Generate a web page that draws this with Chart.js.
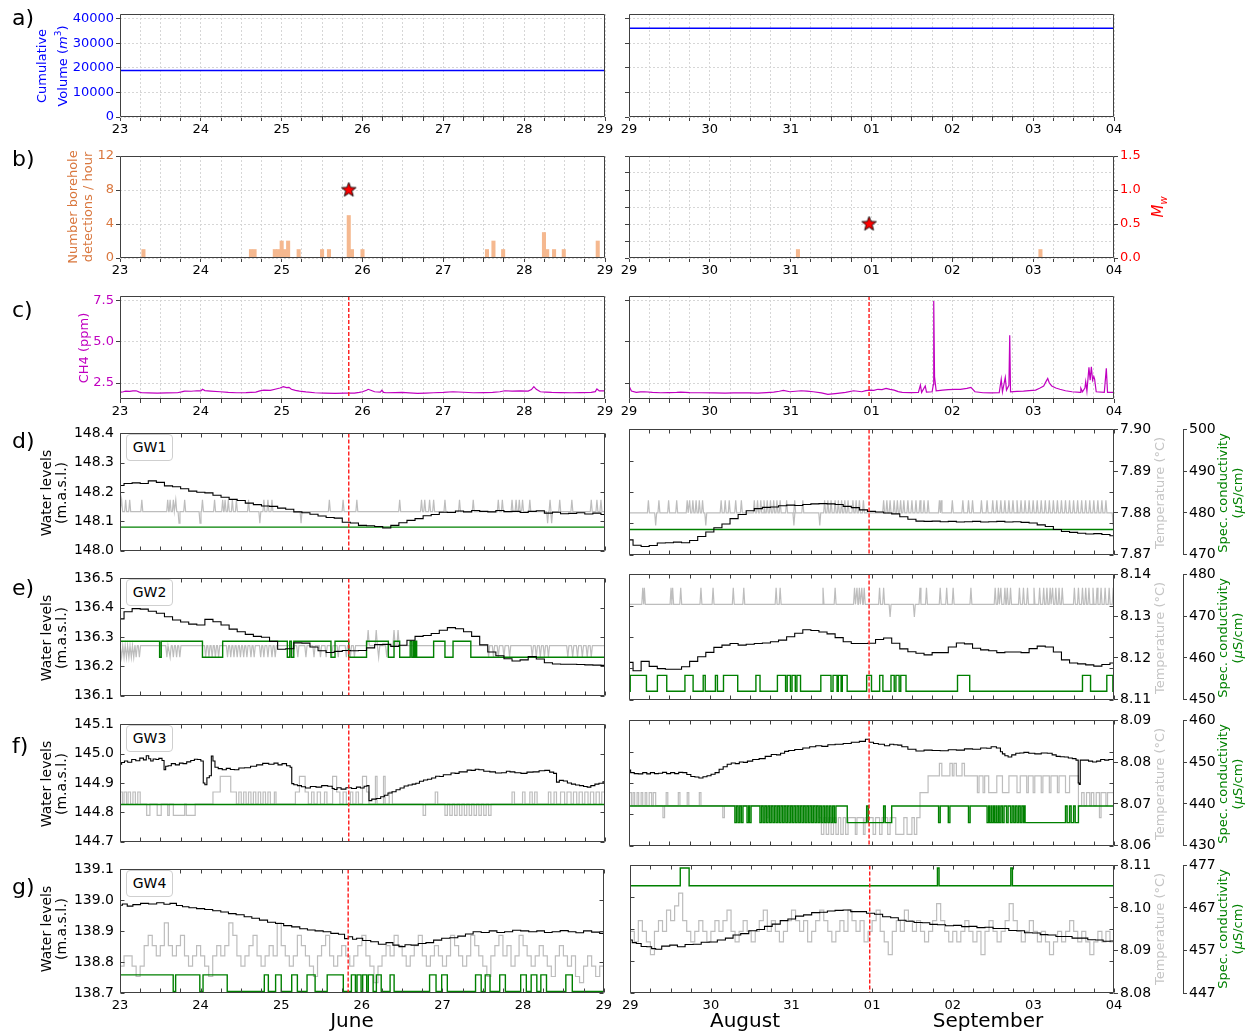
<!DOCTYPE html>
<html>
<head>
<meta charset="utf-8">
<script src="https://cdn.jsdelivr.net/npm/chart.js@4.4.1/dist/chart.umd.min.js"></script>
<style>
  body { margin: 0; background: #fff; }
  #fig { position: relative; width: 1253px; height: 1033px; overflow: hidden; font-family: 'DejaVu Sans', 'Noto Sans', sans-serif; color: #000; }
  #fig canvas { position: absolute; }
  .letter { position: absolute; font-size: 22px; line-height: 26px; }
  .vt { position: absolute; transform: translate(-50%, -50%) rotate(-90deg); text-align: center; white-space: nowrap; }
  .gw { position: absolute; border: 1px solid #cfcfcf; border-radius: 4px; background: #fff; font-size: 14px; text-align: center; box-sizing: border-box; }
  .month { position: absolute; font-size: 20px; line-height: 24px; transform: translateX(-50%); white-space: nowrap; }
</style>
</head>
<body>
<div id="fig"></div>
<script>
// Times are in days from the start of each window:
// June window starts 23 June 00:00, Aug/Sep window starts 29 August 00:00.
const juneDayLabels = ['23', '24', '25', '26', '27', '28', '29'];
const augSepDayLabels = ['29', '30', '31', '01', '02', '03', '04'];

// Seismic events (time, magnitude Mw)
const eventTimeJune = 2.83;
const eventTimeAugSep = 2.97;
const eventMwJune = 1.0;
const eventMwAugSep = 0.5;

// a) cumulative injected volume (m3)
const volumeTicks = [0, 10000, 20000, 30000, 40000];
const volumeJune = [[0, 18950], [6, 18950]];
const volumeAugSep = [[0, 36200], [6, 36200]];

// b) borehole detections per hour
const detectionTicks = [0, 2, 4, 6, 8, 10, 12];
const mwTicks = [0, 0.5, 1.0, 1.5];
const detectionsJune = [[0.29, 1], [1.62, 1], [1.665, 1], [1.915, 1], [1.955, 1], [2.0, 2], [2.04, 1], [2.08, 2], [2.21, 1], [2.5, 1], [2.585, 1], [2.83, 5], [2.87, 1], [3.0, 1], [4.54, 1], [4.62, 2], [4.74, 1], [5.245, 3], [5.285, 1], [5.37, 1], [5.49, 1], [5.91, 2]];
const detectionsAugSep = [[2.09, 1], [5.09, 1]];

// c) CH4 concentration (ppm)
const ch4Ticks = [2.5, 5.0, 7.5];
const ch4June = [[0, 1.93], [0.04, 1.97], [0.07, 2.01], [0.12, 1.99], [0.16, 2.02], [0.2, 2.03], [0.24, 1.95], [0.27, 1.91], [0.35, 1.9], [0.46, 1.89], [0.58, 1.9], [0.71, 1.91], [0.76, 1.96], [0.8, 2.01], [0.88, 2.0], [0.95, 2.03], [1.0, 2.02], [1.02, 2.12], [1.05, 2.04], [1.12, 2.01], [1.24, 1.97], [1.34, 1.93], [1.44, 1.91], [1.56, 1.92], [1.68, 1.95], [1.73, 2.02], [1.78, 2.07], [1.86, 2.06], [1.93, 2.14], [1.98, 2.2], [2.02, 2.28], [2.06, 2.22], [2.09, 2.24], [2.12, 2.12], [2.17, 2.05], [2.22, 2.01], [2.3, 1.96], [2.41, 1.91], [2.53, 1.89], [2.66, 1.87], [2.78, 1.89], [2.9, 1.89], [2.96, 1.93], [3.0, 1.97], [3.05, 2.06], [3.07, 2.12], [3.11, 2.05], [3.15, 1.97], [3.22, 1.95], [3.24, 2.06], [3.26, 1.93], [3.29, 1.91], [3.4, 1.92], [3.49, 1.93], [3.58, 1.9], [3.68, 1.87], [3.78, 1.89], [3.88, 1.91], [4.0, 1.93], [4.12, 1.97], [4.25, 1.94], [4.37, 1.91], [4.5, 1.92], [4.61, 1.93], [4.7, 1.97], [4.76, 2.03], [4.85, 2.01], [4.95, 2.02], [5.05, 2.01], [5.09, 2.1], [5.12, 2.28], [5.15, 2.12], [5.2, 1.97], [5.27, 1.95], [5.34, 1.93], [5.45, 1.92], [5.59, 1.91], [5.7, 1.92], [5.83, 1.93], [5.88, 1.98], [5.9, 2.14], [5.93, 2.02], [5.98, 2.03], [6.0, 2.02]];
const ch4AugSep = [[0, 2.32], [0.03, 2.01], [0.09, 1.93], [0.14, 1.96], [0.19, 1.97], [0.29, 1.93], [0.39, 1.91], [0.49, 1.92], [0.59, 1.93], [0.64, 1.95], [0.75, 1.92], [0.89, 1.91], [1.05, 1.9], [1.19, 1.89], [1.29, 1.9], [1.39, 1.91], [1.49, 1.9], [1.59, 1.89], [1.7, 1.92], [1.79, 1.95], [1.86, 2.0], [1.91, 2.05], [1.99, 1.97], [2.06, 2.0], [2.13, 2.03], [2.2, 2.01], [2.28, 1.97], [2.38, 1.9], [2.46, 1.81], [2.52, 1.84], [2.58, 1.87], [2.68, 1.93], [2.78, 2.03], [2.83, 2.0], [2.88, 1.97], [2.93, 2.04], [2.98, 2.07], [3.03, 2.05], [3.08, 2.12], [3.13, 2.1], [3.18, 2.18], [3.23, 2.12], [3.28, 2.07], [3.33, 1.98], [3.38, 1.93], [3.48, 1.92], [3.58, 1.93], [3.605, 2.38], [3.62, 1.93], [3.665, 2.32], [3.68, 1.95], [3.75, 1.97], [3.765, 2.4], [3.77, 7.48], [3.78, 2.88], [3.8, 2.03], [3.88, 2.07], [3.95, 2.1], [4.03, 2.12], [4.1, 2.11], [4.18, 2.18], [4.23, 2.24], [4.28, 1.97], [4.38, 1.91], [4.48, 1.9], [4.58, 1.91], [4.605, 2.74], [4.62, 1.97], [4.655, 2.84], [4.67, 2.07], [4.7, 2.36], [4.71, 5.41], [4.72, 1.97], [4.8, 1.99], [4.88, 2.01], [4.95, 2.04], [5.03, 2.07], [5.08, 2.18], [5.13, 2.32], [5.16, 2.6], [5.18, 2.78], [5.2, 2.5], [5.23, 2.32], [5.28, 2.2], [5.33, 2.12], [5.4, 2.03], [5.48, 1.97], [5.58, 1.93], [5.59, 2.18], [5.61, 1.97], [5.64, 2.2], [5.65, 2.58], [5.665, 2.01], [5.69, 3.45], [5.705, 2.68], [5.72, 3.49], [5.735, 2.68], [5.75, 2.9], [5.76, 2.74], [5.78, 1.97], [5.88, 1.93], [5.905, 3.39], [5.92, 1.93], [6.0, 1.93]];

// d) GW1: water level (m a.s.l., every 0.1 d), temperature (deg C), spec. conductivity (uS/cm)
const gw1LevelTicks = [148.0, 148.1, 148.2, 148.3, 148.4];
const gw1TempTicks = [7.87, 7.88, 7.89, 7.90];
const gw1CondTicks = [470, 480, 490, 500];
const gw1LevelJune = [148.222, 148.229, 148.231, 148.229, 148.238, 148.233, 148.221, 148.218, 148.211, 148.203, 148.199, 148.197, 148.189, 148.182, 148.175, 148.171, 148.162, 148.157, 148.152, 148.151, 148.145, 148.141, 148.132, 148.129, 148.124, 148.118, 148.113, 148.111, 148.097, 148.094, 148.086, 148.085, 148.082, 148.077, 148.086, 148.095, 148.103, 148.109, 148.119, 148.123, 148.131, 148.130, 148.135, 148.132, 148.137, 148.134, 148.132, 148.137, 148.133, 148.134, 148.130, 148.134, 148.136, 148.128, 148.131, 148.126, 148.127, 148.129, 148.125, 148.128, 148.123];
const gw1LevelAugSep = [148.047, 148.030, 148.026, 148.029, 148.037, 148.038, 148.040, 148.038, 148.045, 148.058, 148.072, 148.086, 148.098, 148.115, 148.128, 148.140, 148.147, 148.151, 148.152, 148.156, 148.158, 148.157, 148.160, 148.162, 148.163, 148.162, 148.160, 148.154, 148.150, 148.143, 148.138, 148.136, 148.133, 148.130, 148.121, 148.113, 148.107, 148.106, 148.107, 148.105, 148.106, 148.104, 148.105, 148.106, 148.104, 148.105, 148.106, 148.104, 148.105, 148.103, 148.101, 148.095, 148.090, 148.080, 148.074, 148.071, 148.068, 148.066, 148.067, 148.064, 148.060];
const gw1TempLevels = [7.877, 7.880, 7.883]; // low, base, high reading
const gw1TempJuneUp = [0.02, 0.07, 0.12, 0.27, 0.59, 0.62, 0.66, 0.69, 0.8, 1.02, 1.17, 1.27, 1.3, 1.34, 1.39, 1.44, 1.59, 1.78, 1.83, 1.88, 2.59, 2.76, 2.93, 3.46, 3.73, 3.77, 3.83, 3.88, 4.02, 4.2, 4.37, 4.68, 4.73, 4.85, 4.9, 4.94, 4.98, 5.07, 5.32, 5.44, 5.59, 5.83, 5.9, 5.95];
const gw1TempJuneDown = [0.73, 0.99, 1.73, 2.24, 5.29, 5.34];
const gw1TempAugSepUp = [0.24, 0.37, 0.49, 0.59, 0.72, 0.75, 0.79, 0.83, 0.87, 0.91, 1.14, 1.19, 1.24, 1.32, 1.39, 1.55, 1.59, 1.63, 1.67, 1.71, 1.75, 1.79, 1.83, 1.87, 1.95, 2.05, 2.15, 2.42, 2.46, 2.5, 2.55, 2.59, 2.63, 2.67, 2.71, 2.77, 2.81, 2.85, 2.9, 3.15, 3.19, 3.23, 3.28, 3.32, 3.36, 3.4, 3.45, 3.5, 3.55, 3.6, 3.65, 3.7, 3.84, 3.86, 4.0, 4.13, 4.2, 4.25, 4.36, 4.43, 4.5, 4.55, 4.6, 4.65, 4.7, 4.75, 4.8, 4.85, 4.9, 4.95, 5.0, 5.05, 5.1, 5.15, 5.2, 5.25, 5.3, 5.35, 5.4, 5.45, 5.5, 5.55, 5.6, 5.65, 5.7, 5.75, 5.8, 5.85, 5.9];
const gw1TempAugSepDown = [0.33, 0.95, 2.04, 2.36, 5.99];
const gw1CondJune = [[0, 476], [6, 476]];
const gw1CondAugSep = [[0, 476], [6, 476]];

// e) GW2
const gw2LevelTicks = [136.1, 136.2, 136.3, 136.4, 136.5];
const gw2TempTicks = [8.11, 8.12, 8.13, 8.14];
const gw2CondTicks = [450, 460, 470, 480];
const gw2LevelJune = [136.362, 136.386, 136.397, 136.395, 136.388, 136.381, 136.369, 136.358, 136.351, 136.344, 136.341, 136.360, 136.352, 136.341, 136.327, 136.318, 136.309, 136.302, 136.299, 136.285, 136.258, 136.260, 136.280, 136.279, 136.266, 136.253, 136.247, 136.251, 136.254, 136.253, 136.254, 136.263, 136.274, 136.275, 136.268, 136.272, 136.289, 136.302, 136.305, 136.312, 136.323, 136.332, 136.328, 136.318, 136.302, 136.273, 136.249, 136.236, 136.226, 136.218, 136.222, 136.233, 136.225, 136.212, 136.208, 136.207, 136.207, 136.206, 136.205, 136.204, 136.203];
const gw2LevelAugSep = [136.219, 136.192, 136.222, 136.206, 136.199, 136.197, 136.197, 136.205, 136.222, 136.237, 136.251, 136.267, 136.274, 136.279, 136.274, 136.277, 136.279, 136.281, 136.285, 136.290, 136.301, 136.312, 136.323, 136.321, 136.316, 136.310, 136.298, 136.285, 136.279, 136.279, 136.280, 136.292, 136.297, 136.280, 136.262, 136.253, 136.248, 136.243, 136.250, 136.250, 136.268, 136.281, 136.278, 136.264, 136.259, 136.256, 136.250, 136.252, 136.252, 136.250, 136.263, 136.271, 136.268, 136.252, 136.227, 136.217, 136.214, 136.211, 136.207, 136.212, 136.217];
const gw2TempJuneLevels = [8.1198, 8.1228, 8.1268];
const gw2TempJuneUp = [3.07, 3.17, 3.39, 3.44];
const gw2TempJuneDown = [0.02, 0.05, 0.08, 0.11, 0.14, 0.17, 0.2, 0.24, 0.58, 0.62, 0.66, 0.7, 0.74, 1.06, 1.1, 1.14, 1.18, 1.22, 1.33, 1.37, 1.41, 1.45, 1.49, 1.53, 1.57, 1.62, 1.66, 1.74, 1.78, 1.83, 1.88, 1.92, 2.14, 2.2, 2.3, 2.4, 2.48, 2.55, 2.62, 2.7, 2.8, 2.85, 2.9, 3.2, 3.3, 4.56, 4.62, 4.68, 4.75, 4.82, 5.1, 5.15, 5.2, 5.25, 5.3, 5.54, 5.6, 5.66, 5.72, 5.78, 5.83];
const gw2TempAugSepLevels = [8.1298, 8.1328, 8.1368];
const gw2TempAugSepUp = [0.17, 0.19, 0.52, 0.54, 0.64, 0.89, 1.04, 1.29, 1.42, 1.82, 1.87, 2.4, 2.55, 2.79, 2.82, 2.85, 2.88, 2.91, 3.1, 3.15, 3.6, 3.68, 3.85, 3.93, 4.01, 4.23, 4.53, 4.57, 4.6, 4.65, 4.68, 4.72, 4.83, 4.88, 4.93, 5.01, 5.08, 5.13, 5.17, 5.21, 5.24, 5.28, 5.32, 5.36, 5.51, 5.56, 5.61, 5.65, 5.69, 5.74, 5.79, 5.84, 5.89, 5.94, 5.99];
const gw2TempAugSepDown = [3.23, 3.53];
const gw2CondJuneLevels = [459.8, 463.9]; // low, high
const gw2CondJuneHigh = [[0, 0.49], [0.51, 1.02], [1.27, 2.07], [2.1, 2.12], [2.15, 2.61], [2.66, 2.83], [3.05, 3.32], [3.39, 3.46], [3.59, 3.61], [3.63, 3.645], [3.655, 3.67], [3.88, 4.02], [4.12, 4.34]];
const gw2CondAugSepLevels = [452.0, 455.8];
const gw2CondAugSepHigh = [[0.015, 0.216], [0.351, 0.467], [0.692, 0.793], [0.918, 0.943], [1.069, 1.094], [1.169, 1.345], [1.57, 1.621], [1.836, 1.937], [1.957, 1.997], [2.017, 2.057], [2.077, 2.122], [2.373, 2.499], [2.524, 2.574], [2.589, 2.624], [2.639, 2.699], [2.94, 3.0], [3.101, 3.141], [3.241, 3.281], [3.302, 3.342], [3.362, 3.427], [4.064, 4.215], [5.61, 5.71], [5.911, 5.986]];

// f) GW3
const gw3LevelTicks = [144.7, 144.8, 144.9, 145.0, 145.1];
const gw3TempTicks = [8.06, 8.07, 8.08, 8.09];
const gw3CondTicks = [430, 440, 450, 460];
const gw3LevelJune = [[0, 144.964], [0.04, 144.97], [0.07, 144.975], [0.12, 144.971], [0.17, 144.98], [0.22, 144.976], [0.27, 144.985], [0.31, 144.979], [0.34, 144.993], [0.37, 144.983], [0.39, 144.975], [0.43, 144.982], [0.46, 144.98], [0.5, 144.984], [0.54, 144.977], [0.55, 144.945], [0.58, 144.957], [0.61, 144.959], [0.66, 144.966], [0.71, 144.962], [0.76, 144.968], [0.8, 144.966], [0.85, 144.972], [0.9, 144.977], [0.94, 144.981], [0.98, 144.98], [1.02, 144.975], [1.04, 144.9], [1.06, 144.894], [1.09, 144.918], [1.12, 144.925], [1.14, 144.992], [1.16, 144.975], [1.19, 144.954], [1.24, 144.949], [1.29, 144.945], [1.34, 144.95], [1.39, 144.946], [1.44, 144.945], [1.5, 144.951], [1.58, 144.952], [1.65, 144.957], [1.73, 144.962], [1.8, 144.967], [1.88, 144.964], [1.93, 144.968], [1.98, 144.962], [2.03, 144.966], [2.09, 144.959], [2.12, 144.954], [2.13, 144.898], [2.17, 144.894], [2.22, 144.891], [2.27, 144.887], [2.32, 144.883], [2.39, 144.888], [2.46, 144.886], [2.53, 144.891], [2.61, 144.889], [2.64, 144.881], [2.66, 144.878], [2.71, 144.884], [2.76, 144.879], [2.83, 144.884], [2.9, 144.881], [2.95, 144.886], [3.0, 144.883], [3.04, 144.889], [3.07, 144.891], [3.09, 144.84], [3.14, 144.845], [3.2, 144.847], [3.25, 144.853], [3.29, 144.858], [3.34, 144.866], [3.39, 144.87], [3.44, 144.877], [3.49, 144.883], [3.54, 144.89], [3.59, 144.893], [3.64, 144.896], [3.68, 144.899], [3.73, 144.906], [3.78, 144.91], [3.83, 144.913], [3.88, 144.917], [3.93, 144.923], [3.98, 144.922], [4.02, 144.928], [4.07, 144.928], [4.12, 144.934], [4.17, 144.933], [4.22, 144.938], [4.27, 144.938], [4.32, 144.944], [4.37, 144.943], [4.42, 144.947], [4.46, 144.945], [4.54, 144.94], [4.61, 144.938], [4.68, 144.934], [4.76, 144.935], [4.8, 144.94], [4.85, 144.938], [4.92, 144.935], [5.0, 144.933], [5.07, 144.937], [5.15, 144.938], [5.22, 144.942], [5.29, 144.943], [5.34, 144.937], [5.39, 144.933], [5.41, 144.903], [5.46, 144.909], [5.51, 144.907], [5.56, 144.9], [5.61, 144.896], [5.66, 144.893], [5.71, 144.891], [5.76, 144.888], [5.8, 144.886], [5.85, 144.891], [5.9, 144.896], [5.95, 144.899], [6.0, 144.904]];
const gw3LevelAugSep = [[0, 144.941], [0.04, 144.933], [0.09, 144.93], [0.14, 144.929], [0.2, 144.933], [0.24, 144.929], [0.29, 144.933], [0.34, 144.93], [0.39, 144.931], [0.44, 144.934], [0.49, 144.93], [0.54, 144.933], [0.59, 144.93], [0.64, 144.934], [0.69, 144.933], [0.74, 144.927], [0.79, 144.921], [0.84, 144.919], [0.89, 144.916], [0.94, 144.92], [0.99, 144.923], [1.04, 144.928], [1.09, 144.933], [1.14, 144.944], [1.19, 144.952], [1.24, 144.96], [1.29, 144.964], [1.34, 144.962], [1.39, 144.967], [1.44, 144.966], [1.49, 144.97], [1.57, 144.975], [1.65, 144.978], [1.72, 144.985], [1.8, 144.991], [1.85, 144.99], [1.9, 144.995], [1.95, 145.001], [2.0, 145.004], [2.1, 145.007], [2.2, 145.012], [2.27, 145.016], [2.35, 145.019], [2.42, 145.017], [2.5, 145.022], [2.6, 145.024], [2.7, 145.026], [2.8, 145.03], [2.9, 145.033], [2.95, 145.04], [3.0, 145.03], [3.05, 145.026], [3.12, 145.024], [3.2, 145.019], [3.25, 145.024], [3.3, 145.022], [3.35, 145.021], [3.4, 145.016], [3.5, 145.008], [3.6, 145.002], [3.7, 145.005], [3.8, 145.004], [3.9, 145.003], [4.0, 145.006], [4.1, 145.005], [4.2, 145.009], [4.3, 145.008], [4.4, 145.012], [4.45, 145.011], [4.51, 145.016], [4.58, 145.012], [4.61, 145.0], [4.63, 144.993], [4.67, 144.987], [4.71, 144.983], [4.76, 144.99], [4.81, 144.995], [4.86, 144.996], [4.91, 144.998], [4.98, 144.995], [5.06, 144.993], [5.14, 144.996], [5.21, 144.995], [5.26, 144.99], [5.31, 144.985], [5.36, 144.984], [5.41, 144.983], [5.46, 144.98], [5.51, 144.978], [5.55, 144.973], [5.565, 144.9], [5.575, 144.895], [5.59, 144.973], [5.66, 144.973], [5.71, 144.97], [5.76, 144.967], [5.81, 144.97], [5.86, 144.975], [5.91, 144.973], [5.96, 144.975], [6.0, 144.975]];
const gw3TempJune = [[0, 8.0727], [0.03, 8.0696], [0.05, 8.0727], [0.08, 8.0696], [0.1, 8.0727], [0.13, 8.0696], [0.16, 8.0727], [0.19, 8.0696], [0.22, 8.0727], [0.25, 8.0696], [0.33, 8.0667], [0.37, 8.0696], [0.46, 8.0667], [0.51, 8.0696], [0.59, 8.0667], [0.61, 8.0696], [0.66, 8.0667], [0.8, 8.0696], [0.82, 8.0667], [0.93, 8.0696], [1.15, 8.0727], [1.24, 8.0767], [1.37, 8.0727], [1.44, 8.0696], [1.47, 8.0727], [1.5, 8.0696], [1.53, 8.0727], [1.56, 8.0696], [1.59, 8.0727], [1.62, 8.0696], [1.65, 8.0727], [1.68, 8.0696], [1.71, 8.0727], [1.74, 8.0696], [1.77, 8.0727], [1.8, 8.0696], [1.83, 8.0727], [1.86, 8.0696], [1.91, 8.0727], [1.93, 8.0696], [2.17, 8.0727], [2.22, 8.0767], [2.29, 8.0727], [2.33, 8.0696], [2.37, 8.0727], [2.4, 8.0696], [2.44, 8.0727], [2.48, 8.0696], [2.53, 8.0727], [2.56, 8.0696], [2.63, 8.0767], [2.68, 8.0727], [2.72, 8.0696], [2.76, 8.0727], [2.8, 8.0696], [2.85, 8.0727], [2.88, 8.0696], [2.92, 8.0727], [2.95, 8.0696], [3.0, 8.0767], [3.05, 8.0727], [3.08, 8.0696], [3.16, 8.0767], [3.18, 8.0696], [3.26, 8.0767], [3.28, 8.0696], [3.33, 8.0727], [3.37, 8.0696], [3.75, 8.0667], [3.78, 8.0696], [3.9, 8.0727], [3.93, 8.0696], [4.02, 8.0667], [4.05, 8.0696], [4.08, 8.0667], [4.11, 8.0696], [4.14, 8.0667], [4.17, 8.0696], [4.2, 8.0667], [4.23, 8.0696], [4.26, 8.0667], [4.29, 8.0696], [4.32, 8.0667], [4.35, 8.0696], [4.38, 8.0667], [4.41, 8.0696], [4.44, 8.0667], [4.47, 8.0696], [4.5, 8.0667], [4.53, 8.0696], [4.56, 8.0667], [4.59, 8.0696], [4.85, 8.0727], [4.88, 8.0696], [4.98, 8.0727], [5.01, 8.0696], [5.07, 8.0727], [5.1, 8.0696], [5.13, 8.0727], [5.16, 8.0696], [5.3, 8.0727], [5.33, 8.0696], [5.37, 8.0727], [5.4, 8.0696], [5.45, 8.0727], [5.5, 8.0696], [5.53, 8.0727], [5.58, 8.0696], [5.61, 8.0727], [5.65, 8.0696], [5.68, 8.0727], [5.72, 8.0696], [5.75, 8.0727], [5.79, 8.0696], [5.82, 8.0727], [5.86, 8.0696], [5.89, 8.0727], [5.93, 8.0696], [5.96, 8.0727], [6.0, 8.0727]];
const gw3TempAugSep = [[0, 8.0727], [0.03, 8.0696], [0.05, 8.0727], [0.07, 8.0696], [0.1, 8.0727], [0.12, 8.0696], [0.15, 8.0727], [0.17, 8.0696], [0.2, 8.0727], [0.22, 8.0696], [0.25, 8.0727], [0.28, 8.0696], [0.3, 8.0727], [0.33, 8.0696], [0.42, 8.0667], [0.44, 8.0696], [0.46, 8.0727], [0.48, 8.0696], [0.61, 8.0727], [0.63, 8.0696], [0.72, 8.0727], [0.74, 8.0696], [0.87, 8.0727], [0.89, 8.0696], [1.16, 8.0667], [1.18, 8.0696], [1.7, 8.0667], [1.72, 8.0696], [2.35, 8.0667], [2.38, 8.0627], [2.41, 8.0667], [2.44, 8.0627], [2.47, 8.0667], [2.5, 8.0627], [2.53, 8.0667], [2.56, 8.0627], [2.59, 8.0667], [2.62, 8.0627], [2.65, 8.0667], [2.68, 8.0627], [2.71, 8.0667], [2.8, 8.0627], [2.82, 8.0667], [2.9, 8.0627], [2.92, 8.0667], [3.02, 8.0627], [3.05, 8.0667], [3.1, 8.0627], [3.13, 8.0667], [3.2, 8.0627], [3.23, 8.0667], [3.3, 8.0627], [3.4, 8.0667], [3.44, 8.0627], [3.5, 8.0667], [3.53, 8.0627], [3.56, 8.0667], [3.6, 8.0727], [3.7, 8.0767], [3.84, 8.0797], [3.87, 8.0767], [3.97, 8.0797], [4.0, 8.0767], [4.02, 8.0797], [4.05, 8.0767], [4.12, 8.0797], [4.15, 8.0767], [4.31, 8.0727], [4.33, 8.0767], [4.38, 8.0727], [4.4, 8.0767], [4.45, 8.0727], [4.55, 8.0767], [4.62, 8.0727], [4.7, 8.0767], [4.8, 8.0727], [4.84, 8.0767], [4.92, 8.0727], [4.94, 8.0767], [5.0, 8.0727], [5.02, 8.0767], [5.1, 8.0727], [5.12, 8.0767], [5.2, 8.0727], [5.22, 8.0767], [5.3, 8.0727], [5.32, 8.0767], [5.4, 8.0727], [5.45, 8.0767], [5.56, 8.0696], [5.6, 8.0727], [5.63, 8.0696], [5.66, 8.0727], [5.7, 8.0696], [5.72, 8.0727], [5.75, 8.0696], [5.78, 8.0727], [5.82, 8.0667], [5.84, 8.0727], [5.9, 8.0696], [5.92, 8.0727], [6.0, 8.0727]];
const gw3CondJune = [[0, 439.5], [6, 439.5]];
const gw3CondAugSepLevels = [439.5, 435.5]; // usual, dropped
const gw3CondAugSepLow = [[1.31, 1.33], [1.35, 1.37], [1.39, 1.41], [1.46, 1.48], [1.49, 1.51], [1.62, 1.64], [1.66, 1.68], [1.7, 1.72], [1.74, 1.76], [1.78, 1.8], [1.82, 1.84], [1.86, 1.88], [1.9, 1.92], [1.94, 1.96], [1.98, 2.0], [2.02, 2.04], [2.06, 2.08], [2.1, 2.12], [2.14, 2.16], [2.18, 2.2], [2.22, 2.24], [2.26, 2.28], [2.3, 2.32], [2.34, 2.36], [2.38, 2.4], [2.42, 2.44], [2.46, 2.48], [2.5, 2.52], [2.54, 2.56], [2.7, 2.94], [2.96, 3.15], [3.17, 3.25], [3.83, 3.85], [3.95, 3.97], [4.2, 4.22], [4.43, 4.45], [4.46, 4.48], [4.49, 4.51], [4.52, 4.54], [4.55, 4.57], [4.58, 4.6], [4.62, 4.64], [4.67, 4.69], [4.72, 4.74], [4.76, 4.78], [4.8, 4.82], [4.84, 4.86], [4.88, 4.89], [4.9, 5.4], [5.42, 5.45], [5.47, 5.5], [5.52, 5.56]];

// g) GW4
const gw4LevelTicks = [138.7, 138.8, 138.9, 139.0, 139.1];
const gw4TempTicks = [8.08, 8.09, 8.10, 8.11];
const gw4CondTicks = [447, 457, 467, 477];
const gw4LevelJune = [[0, 138.984], [0.06, 138.988], [0.12, 138.981], [0.2, 138.986], [0.31, 138.99], [0.4, 138.988], [0.51, 138.992], [0.58, 138.987], [0.66, 138.99], [0.74, 138.983], [0.81, 138.979], [0.9, 138.976], [1.0, 138.973], [1.1, 138.97], [1.2, 138.966], [1.3, 138.962], [1.39, 138.957], [1.49, 138.953], [1.59, 138.947], [1.68, 138.942], [1.78, 138.936], [1.88, 138.929], [1.98, 138.925], [2.08, 138.918], [2.18, 138.914], [2.28, 138.908], [2.37, 138.904], [2.47, 138.901], [2.57, 138.898], [2.66, 138.893], [2.76, 138.89], [2.81, 138.876], [2.86, 138.882], [2.91, 138.874], [2.96, 138.877], [3.06, 138.87], [3.16, 138.866], [3.25, 138.858], [3.35, 138.863], [3.42, 138.855], [3.5, 138.85], [3.57, 138.856], [3.65, 138.855], [3.75, 138.86], [3.84, 138.863], [3.94, 138.871], [4.04, 138.877], [4.14, 138.879], [4.24, 138.884], [4.33, 138.891], [4.43, 138.898], [4.53, 138.896], [4.63, 138.901], [4.72, 138.896], [4.82, 138.898], [4.92, 138.903], [5.02, 138.901], [5.12, 138.898], [5.22, 138.901], [5.31, 138.896], [5.41, 138.898], [5.51, 138.902], [5.61, 138.898], [5.7, 138.895], [5.8, 138.901], [5.9, 138.897], [6.0, 138.893]];
const gw4LevelAugSep = [[0, 138.866], [0.05, 138.858], [0.1, 138.855], [0.17, 138.846], [0.24, 138.845], [0.29, 138.839], [0.34, 138.837], [0.44, 138.847], [0.54, 138.85], [0.63, 138.845], [0.73, 138.852], [0.83, 138.853], [0.93, 138.859], [1.03, 138.86], [1.13, 138.866], [1.23, 138.872], [1.32, 138.882], [1.42, 138.886], [1.52, 138.895], [1.62, 138.899], [1.71, 138.909], [1.81, 138.916], [1.91, 138.927], [2.0, 138.932], [2.1, 138.941], [2.2, 138.945], [2.3, 138.952], [2.4, 138.953], [2.49, 138.957], [2.59, 138.959], [2.69, 138.96], [2.78, 138.955], [2.88, 138.955], [2.98, 138.95], [3.08, 138.947], [3.18, 138.939], [3.28, 138.936], [3.37, 138.928], [3.47, 138.925], [3.57, 138.921], [3.67, 138.92], [3.76, 138.915], [3.86, 138.914], [3.96, 138.911], [4.06, 138.912], [4.16, 138.908], [4.25, 138.909], [4.35, 138.905], [4.45, 138.906], [4.55, 138.902], [4.65, 138.902], [4.74, 138.896], [4.84, 138.895], [4.94, 138.889], [5.04, 138.888], [5.13, 138.883], [5.23, 138.882], [5.33, 138.877], [5.43, 138.877], [5.53, 138.872], [5.63, 138.872], [5.72, 138.867], [5.82, 138.866], [5.91, 138.862], [6.0, 138.863]];
// temperature readings every 0.05 d
const gw4TempJune = [8.0865, 8.0890, 8.0890, 8.0865, 8.0840, 8.0865, 8.0915, 8.0940, 8.0915, 8.0890, 8.0915, 8.0970, 8.0915, 8.0890, 8.0915, 8.0940, 8.0890, 8.0865, 8.0890, 8.0915, 8.0890, 8.0865, 8.0840, 8.0890, 8.0915, 8.0890, 8.0915, 8.0970, 8.0940, 8.0890, 8.0865, 8.0890, 8.0915, 8.0940, 8.0890, 8.0865, 8.0890, 8.0915, 8.0890, 8.0970, 8.0915, 8.0890, 8.0865, 8.0890, 8.0940, 8.0915, 8.0890, 8.0865, 8.0840, 8.0890, 8.0915, 8.0940, 8.0890, 8.0865, 8.0890, 8.0915, 8.0890, 8.0865, 8.0890, 8.0915, 8.0940, 8.0890, 8.0865, 8.0825, 8.0865, 8.0890, 8.0915, 8.0890, 8.0940, 8.0915, 8.0890, 8.0865, 8.0890, 8.0915, 8.0940, 8.0890, 8.0865, 8.0890, 8.0915, 8.0890, 8.0865, 8.0890, 8.0940, 8.0915, 8.0890, 8.0865, 8.0890, 8.0940, 8.0915, 8.0890, 8.0865, 8.0840, 8.0890, 8.0915, 8.0940, 8.0890, 8.0915, 8.0865, 8.0890, 8.0940, 8.0915, 8.0890, 8.0865, 8.0890, 8.0915, 8.0890, 8.0865, 8.0840, 8.0890, 8.0915, 8.0890, 8.0865, 8.0890, 8.0840, 8.0825, 8.0865, 8.0890, 8.0865, 8.0840, 8.0865, 8.0890];
const gw4TempAugSep = [8.0945, 8.0920, 8.0970, 8.0945, 8.0920, 8.0890, 8.0945, 8.0970, 8.0945, 8.0995, 8.0970, 8.1005, 8.1035, 8.0970, 8.0945, 8.0920, 8.0945, 8.0970, 8.0945, 8.0920, 8.0945, 8.0970, 8.0945, 8.0970, 8.0995, 8.0945, 8.0920, 8.0945, 8.0970, 8.0945, 8.0920, 8.0945, 8.0970, 8.0995, 8.0945, 8.0970, 8.0945, 8.0920, 8.0945, 8.0970, 8.0995, 8.0970, 8.0945, 8.0970, 8.0920, 8.0945, 8.0970, 8.0995, 8.0970, 8.0945, 8.0920, 8.0945, 8.0970, 8.0945, 8.0995, 8.0970, 8.0945, 8.0970, 8.0920, 8.0945, 8.0970, 8.0995, 8.0945, 8.0920, 8.0890, 8.0945, 8.0970, 8.0945, 8.0995, 8.0970, 8.0945, 8.0970, 8.0945, 8.0920, 8.0945, 8.0970, 8.1010, 8.0970, 8.0945, 8.0920, 8.0945, 8.0920, 8.0945, 8.0970, 8.0945, 8.0920, 8.0945, 8.0890, 8.0945, 8.0970, 8.0945, 8.0920, 8.0945, 8.0970, 8.1010, 8.0970, 8.0945, 8.0920, 8.0945, 8.0970, 8.0945, 8.0920, 8.0945, 8.0920, 8.0890, 8.0920, 8.0945, 8.0920, 8.0945, 8.0970, 8.0945, 8.0920, 8.0945, 8.0920, 8.0890, 8.0920, 8.0945, 8.0920, 8.0945, 8.0920, 8.0945];
const gw4CondJuneLevels = [447.4, 451.4];
const gw4CondJuneHigh = [[0, 0.66], [0.69, 0.99], [1.03, 1.33], [1.79, 1.84], [1.93, 2.0], [2.13, 2.2], [2.32, 2.42], [2.57, 2.77], [2.87, 2.92], [2.94, 2.99], [3.01, 3.06], [3.08, 3.14], [3.18, 3.24], [3.35, 3.4], [3.84, 3.92], [3.99, 4.06], [4.41, 4.48], [4.53, 4.59], [4.71, 4.78], [4.97, 5.04], [5.1, 5.17], [5.22, 5.29], [5.53, 5.61]];
const gw4CondAugSepLevels = [472.2, 476.4];
const gw4CondAugSepHigh = [[0.62, 0.73], [3.81, 3.83], [4.72, 4.74]];

// ---------- helpers turning the arrays above into chart points ----------
const asPoints = pairs => pairs.map(([x, y]) => ({ x, y }));
const asSampled = (vals, step) => vals.map((y, i) => ({ x: Math.round(i * step * 1000) / 1000, y }));
function spikeTrace(levels, upTimes, downTimes, hw) {
  const [low, base, high] = levels;
  const ev = upTimes.map(t => [t, high]).concat(downTimes.map(t => [t, low])).sort((a, b) => a[0] - b[0]);
  const out = [{ x: 0, y: base }];
  ev.forEach(([t, v]) => out.push({ x: t - hw, y: base }, { x: t, y: v }, { x: t + hw, y: base }));
  out.push({ x: 6, y: base });
  return out;
}
function toggleTrace(base, alt, intervals) {
  const out = [{ x: 0, y: base }];
  intervals.forEach(([a, b]) => out.push({ x: a, y: alt }, { x: b, y: base }));
  out.push({ x: 6, y: base });
  return out;
}

// ---------- page layout ----------
const FONT = "'DejaVu Sans', 'Noto Sans', sans-serif";
Chart.defaults.font.family = FONT;
Chart.defaults.font.size = 13;
Chart.defaults.color = '#000';

const fig = document.getElementById('fig');
const rows = { a: [14, 117], b: [156, 258], c: [296, 399], d: [429, 557], e: [574, 702], f: [720, 848], g: [865, 993] };
const colL = [120, 605], colR = [629, 1114];
const quarterTicks = [];
for (let i = 0; i <= 24; i++) quarterTicks.push(i * 0.25);

const COLORS = {
  volume: '#0000ff', detections: '#d9773e', bars: '#f5b88f', mw: '#ff0000', ch4: '#c000c0',
  level: '#000000', temp: '#bdbdbd', tempTitle: '#c4c4c4', cond: '#008000', frame: '#404040', grid: '#d6d6d6',
  event: '#ff1a1a'
};

// red five-pointed star marker
const starImg = document.createElement('canvas');
starImg.width = 17; starImg.height = 17;
(function () {
  const c = starImg.getContext('2d');
  c.beginPath();
  for (let i = 0; i < 10; i++) {
    const r = i % 2 ? 3.2 : 7.6;
    const a = -Math.PI / 2 + i * Math.PI / 5;
    c.lineTo(8.5 + r * Math.cos(a), 8.5 + r * Math.sin(a));
  }
  c.closePath();
  c.fillStyle = '#ff0000'; c.fill();
  c.lineWidth = 0.9; c.strokeStyle = '#000'; c.stroke();
})();

// frame, dashed event line and inward tick marks
const framePlugin = {
  id: 'frame',
  afterDatasetsDraw(chart, args, opts) {
    const { ctx, chartArea: a } = chart;
    ctx.save();
    if (opts.eventX != null) {
      const x = chart.scales.x.getPixelForValue(opts.eventX);
      ctx.strokeStyle = COLORS.event; ctx.lineWidth = 1.4; ctx.setLineDash([4, 2]);
      ctx.beginPath(); ctx.moveTo(x, a.top); ctx.lineTo(x, a.bottom); ctx.stroke();
      ctx.setLineDash([]);
    }
    const L = Math.round(a.left) + 0.5, R = Math.round(a.right) - 0.5;
    const T = Math.round(a.top) + 0.5, B = Math.round(a.bottom) - 0.5;
    ctx.strokeStyle = COLORS.frame; ctx.lineWidth = 1;
    ctx.beginPath();
    if (opts.inward) {
      const xs = chart.scales.x, ys = chart.scales.y;
      xs.ticks.forEach(t => {
        const px = Math.round(xs.getPixelForValue(t.value)) + 0.5;
        ctx.moveTo(px, B); ctx.lineTo(px, B - 4);
        ctx.moveTo(px, T); ctx.lineTo(px, T + 4);
      });
      ys.ticks.forEach(t => {
        const py = Math.round(ys.getPixelForValue(t.value)) + 0.5;
        ctx.moveTo(L, py); ctx.lineTo(L + 4, py);
        ctx.moveTo(R, py); ctx.lineTo(R - 4, py);
      });
    }
    ctx.rect(L, T, R - L, B - T);
    ctx.stroke();
    ctx.restore();
  }
};

function addCanvas(x, y, w, h) {
  const c = document.createElement('canvas');
  c.width = w; c.height = h;
  Object.assign(c.style, { left: x + 'px', top: y + 'px', width: w + 'px', height: h + 'px' });
  fig.appendChild(c);
  return c;
}

function fixedTicks(arr) {
  return scale => { scale.ticks = arr.map(v => ({ value: v })); };
}

function panel(spec) {
  const [top, bottom] = spec.row;
  const isL = spec.col === 'L';
  const [left, right] = isL ? colL : colR;
  const cx = isL ? 0 : 617, cw = isL ? 617 : 636;
  const cy = top - 10;
  const xh = spec.labels ? 24 : 8;
  const ch = (bottom - top) + 10 + xh;
  const canvas = addCanvas(cx, cy, cw, ch);
  const inward = !!spec.inward;
  const gridStyle = {
    display: true, offset: false, drawOnChartArea: !!spec.grid, drawTicks: !inward,
    color: COLORS.grid, lineWidth: 1, tickColor: COLORS.frame, tickLength: 4
  };
  const scales = {
    x: {
      type: 'linear', min: 0, max: 6, offset: false,
      afterBuildTicks: fixedTicks(quarterTicks),
      afterFit: s => { s.height = xh; },
      ticks: {
        display: !!spec.labels, autoSkip: false, maxRotation: 0, minRotation: 0,
        padding: inward ? 5 : 1, color: '#000', font: { size: 13 },
        callback: v => (Number.isInteger(v) && spec.labels) ? spec.labels[v] : ''
      },
      grid: gridStyle,
      border: { display: false, dash: [2, 2] }
    },
    y: {
      type: 'linear', position: 'left', min: spec.y.min, max: spec.y.max,
      afterBuildTicks: fixedTicks(spec.y.ticks),
      afterFit: s => { s.width = left - cx; },
      ticks: { display: isL, color: spec.y.color || '#000', font: { size: spec.y.size || 13 }, padding: inward ? 6 : 2, callback: spec.y.fmt },
      grid: gridStyle,
      border: { display: false, dash: [2, 2] }
    }
  };
  // secondary axes are only drawn (and given room) in the right-hand column
  let rightPad = (cx + cw) - right;
  if (spec.temp) {
    scales.temp = {
      type: 'linear', position: 'right', display: !isL, weight: 0,
      min: spec.temp.ticks[0], max: spec.temp.ticks[spec.temp.ticks.length - 1],
      afterBuildTicks: fixedTicks(spec.temp.ticks),
      afterFit: s => { s.width = isL ? 0 : 69; },
      ticks: { color: '#000', font: { size: 14 }, padding: 2, callback: v => v.toFixed(2) },
      grid: { drawOnChartArea: false, tickColor: COLORS.frame, tickLength: 4 },
      border: { display: false }
    };
    scales.cond = {
      type: 'linear', position: 'right', display: !isL, weight: 1,
      min: spec.cond.ticks[0], max: spec.cond.ticks[spec.cond.ticks.length - 1],
      afterBuildTicks: fixedTicks(spec.cond.ticks),
      afterFit: s => { s.width = isL ? 0 : (cx + cw) - 1183; },
      ticks: { color: '#000', font: { size: 14 }, padding: 2, callback: v => String(v) },
      grid: { drawOnChartArea: false, tickColor: COLORS.frame, tickLength: 4 },
      border: { display: true, color: COLORS.frame, width: 1 }
    };
    if (!isL) rightPad = 0;
  }
  if (spec.mw) {
    scales.mw = {
      type: 'linear', position: 'right', display: !isL, min: 0, max: 1.5,
      afterBuildTicks: fixedTicks(mwTicks),
      afterFit: s => { s.width = isL ? 0 : (cx + cw) - right; },
      ticks: { color: COLORS.mw, font: { size: 13 }, padding: 2, callback: v => v.toFixed(1) },
      grid: { drawOnChartArea: false, tickColor: COLORS.frame, tickLength: 4 },
      border: { display: false }
    };
    if (!isL) rightPad = 0;
  }
  return new Chart(canvas, {
    type: 'line',
    data: { datasets: spec.datasets },
    options: {
      responsive: false, animation: false, events: [], devicePixelRatio: 1,
      layout: { padding: { top: 10, left: 0, bottom: 0, right: rightPad } },
      elements: { point: { radius: 0 }, line: { tension: 0 } },
      plugins: { legend: { display: false }, tooltip: { enabled: false }, frame: { eventX: spec.eventX, inward } },
      scales
    },
    plugins: [framePlugin]
  });
}

const lineSet = (data, color, width, axis, extra) => Object.assign({ data, yAxisID: axis, borderColor: color, borderWidth: width, pointRadius: 0, fill: false }, extra || {});
const starSet = (t, mw) => ({ type: 'scatter', data: [{ x: t, y: mw }], yAxisID: 'mw', pointStyle: starImg, pointRadius: 8, showLine: false, order: 0 });
const barSet = data => ({ type: 'bar', data: asPoints(data), yAxisID: 'y', backgroundColor: COLORS.bars, borderWidth: 0, barThickness: 3.4, grouped: false, order: 1 });

// a) cumulative volume
const volY = { min: 0, max: 42000, ticks: volumeTicks, color: COLORS.volume, fmt: v => String(v) };
panel({ col: 'L', row: rows.a, labels: juneDayLabels, grid: true, y: volY,
  datasets: [lineSet(asPoints(volumeJune), COLORS.volume, 1.5, 'y')] });
panel({ col: 'R', row: rows.a, labels: augSepDayLabels, grid: true, y: volY,
  datasets: [lineSet(asPoints(volumeAugSep), COLORS.volume, 1.5, 'y')] });

// b) detections and event magnitude
const detY = { min: 0, max: 12, ticks: detectionTicks, color: COLORS.detections, fmt: v => String(v) };
panel({ col: 'L', row: rows.b, labels: juneDayLabels, grid: true, y: detY, mw: true,
  datasets: [starSet(eventTimeJune, eventMwJune), barSet(detectionsJune)] });
panel({ col: 'R', row: rows.b, labels: augSepDayLabels, grid: true, y: detY, mw: true,
  datasets: [starSet(eventTimeAugSep, eventMwAugSep), barSet(detectionsAugSep)] });

// c) CH4
const ch4Y = { min: 1.53, max: 7.79, ticks: ch4Ticks, color: COLORS.ch4, fmt: v => v.toFixed(1) };
panel({ col: 'L', row: rows.c, labels: juneDayLabels, grid: true, y: ch4Y, eventX: eventTimeJune,
  datasets: [lineSet(asPoints(ch4June), COLORS.ch4, 1.2, 'y')] });
panel({ col: 'R', row: rows.c, labels: augSepDayLabels, grid: true, y: ch4Y, eventX: eventTimeAugSep,
  datasets: [lineSet(asPoints(ch4AugSep), COLORS.ch4, 1.2, 'y')] });

// d-g) groundwater wells
function wellPanels(row, labelsL, labelsR, levelTicks, tempTicks, condTicks, sets) {
  const y = { min: levelTicks[0], max: levelTicks[levelTicks.length - 1], ticks: levelTicks, size: 14, fmt: v => v.toFixed(1) };
  const common = { row, inward: true, grid: false, y, temp: { ticks: tempTicks }, cond: { ticks: condTicks } };
  panel(Object.assign({ col: 'L', labels: labelsL, eventX: eventTimeJune, datasets: sets.june }, common));
  panel(Object.assign({ col: 'R', labels: labelsR, eventX: eventTimeAugSep, datasets: sets.augSep }, common));
}
const lvl = d => lineSet(d, COLORS.level, 1.1, 'y', { order: 0, stepped: 'middle' });
const cnd = (d, stepped) => lineSet(d, COLORS.cond, 1.4, 'cond', { order: 1, stepped: stepped ? 'before' : false });
const tmp = (d, stepped) => lineSet(d, COLORS.temp, 1.2, 'temp', { order: 2, stepped: stepped ? 'before' : false });

wellPanels(rows.d, null, null, gw1LevelTicks, gw1TempTicks, gw1CondTicks, {
  june: [lvl(asSampled(gw1LevelJune, 0.1)), cnd(asPoints(gw1CondJune)), tmp(spikeTrace(gw1TempLevels, gw1TempJuneUp, gw1TempJuneDown, 0.012))],
  augSep: [lvl(asSampled(gw1LevelAugSep, 0.1)), cnd(asPoints(gw1CondAugSep)), tmp(spikeTrace(gw1TempLevels, gw1TempAugSepUp, gw1TempAugSepDown, 0.012))]
});
wellPanels(rows.e, null, null, gw2LevelTicks, gw2TempTicks, gw2CondTicks, {
  june: [lvl(asSampled(gw2LevelJune, 0.1)), cnd(toggleTrace(gw2CondJuneLevels[0], gw2CondJuneLevels[1], gw2CondJuneHigh), true), tmp(spikeTrace(gw2TempJuneLevels, gw2TempJuneUp, gw2TempJuneDown, 0.014))],
  augSep: [lvl(asSampled(gw2LevelAugSep, 0.1)), cnd(toggleTrace(gw2CondAugSepLevels[0], gw2CondAugSepLevels[1], gw2CondAugSepHigh), true), tmp(spikeTrace(gw2TempAugSepLevels, gw2TempAugSepUp, gw2TempAugSepDown, 0.012))]
});
wellPanels(rows.f, null, null, gw3LevelTicks, gw3TempTicks, gw3CondTicks, {
  june: [lvl(asPoints(gw3LevelJune)), cnd(asPoints(gw3CondJune)), tmp(asPoints(gw3TempJune), true)],
  augSep: [lvl(asPoints(gw3LevelAugSep)), cnd(toggleTrace(gw3CondAugSepLevels[0], gw3CondAugSepLevels[1], gw3CondAugSepLow), true), tmp(asPoints(gw3TempAugSep), true)]
});
wellPanels(rows.g, juneDayLabels, augSepDayLabels, gw4LevelTicks, gw4TempTicks, gw4CondTicks, {
  june: [lvl(asPoints(gw4LevelJune)), cnd(toggleTrace(gw4CondJuneLevels[0], gw4CondJuneLevels[1], gw4CondJuneHigh), true), tmp(asSampled(gw4TempJune, 0.05), true)],
  augSep: [lvl(asPoints(gw4LevelAugSep)), cnd(toggleTrace(gw4CondAugSepLevels[0], gw4CondAugSepLevels[1], gw4CondAugSepHigh), true), tmp(asSampled(gw4TempAugSep, 0.05), true)]
});

// ---------- text: panel letters, axis titles, well names, months ----------
function addText(html, cls, style) {
  const d = document.createElement('div');
  d.className = cls; d.innerHTML = html;
  Object.assign(d.style, style);
  fig.appendChild(d);
  return d;
}
const letters = [['a)', 18], ['b)', 159], ['c)', 310], ['d)', 441], ['e)', 588], ['f)', 746], ['g)', 887]];
letters.forEach(([t, yc]) => addText(t, 'letter', { left: '12px', top: (yc - 13) + 'px' }));

const mid = r => (r[0] + r[1]) / 2;
addText('Cumulative<br>Volume (<i>m</i><sup style="font-size:9px">3</sup>)', 'vt', { left: '52px', top: mid(rows.a) + 'px', color: COLORS.volume, fontSize: '13px', lineHeight: '17px' });
addText('Number borehole<br>detections / hour', 'vt', { left: '80px', top: mid(rows.b) + 'px', color: COLORS.detections, fontSize: '13px', lineHeight: '15px' });
addText('CH4 (ppm)', 'vt', { left: '83px', top: mid(rows.c) + 'px', color: COLORS.ch4, fontSize: '13px' });
addText('<i>M</i><sub style="font-size:10px"><i>w</i></sub>', 'vt', { left: '1159px', top: mid(rows.b) + 'px', color: COLORS.mw, fontSize: '15px' });

['d', 'e', 'f', 'g'].forEach((k, i) => {
  const r = rows[k];
  addText('Water levels<br>(m.a.s.l.)', 'vt', { left: '54px', top: mid(r) + 'px', fontSize: '14px', lineHeight: '15px' });
  addText('Temperature (°C)', 'vt', { left: '1159px', top: mid(r) + 'px', color: COLORS.tempTitle, fontSize: '13px' });
  addText('Spec. conductivity<br>(<i>µ</i>S/cm)', 'vt', { left: '1230px', top: mid(r) + 'px', color: COLORS.cond, fontSize: '13px', lineHeight: '15px' });
  addText('GW' + (i + 1), 'gw', { left: '126px', top: (r[0] + 5) + 'px', width: '47px', height: '27px', lineHeight: '25px' });
});

addText('June', 'month', { left: '352px', top: '1008px' });
addText('August', 'month', { left: '745px', top: '1008px' });
addText('September', 'month', { left: '988px', top: '1008px' });
</script>
</body>
</html>
